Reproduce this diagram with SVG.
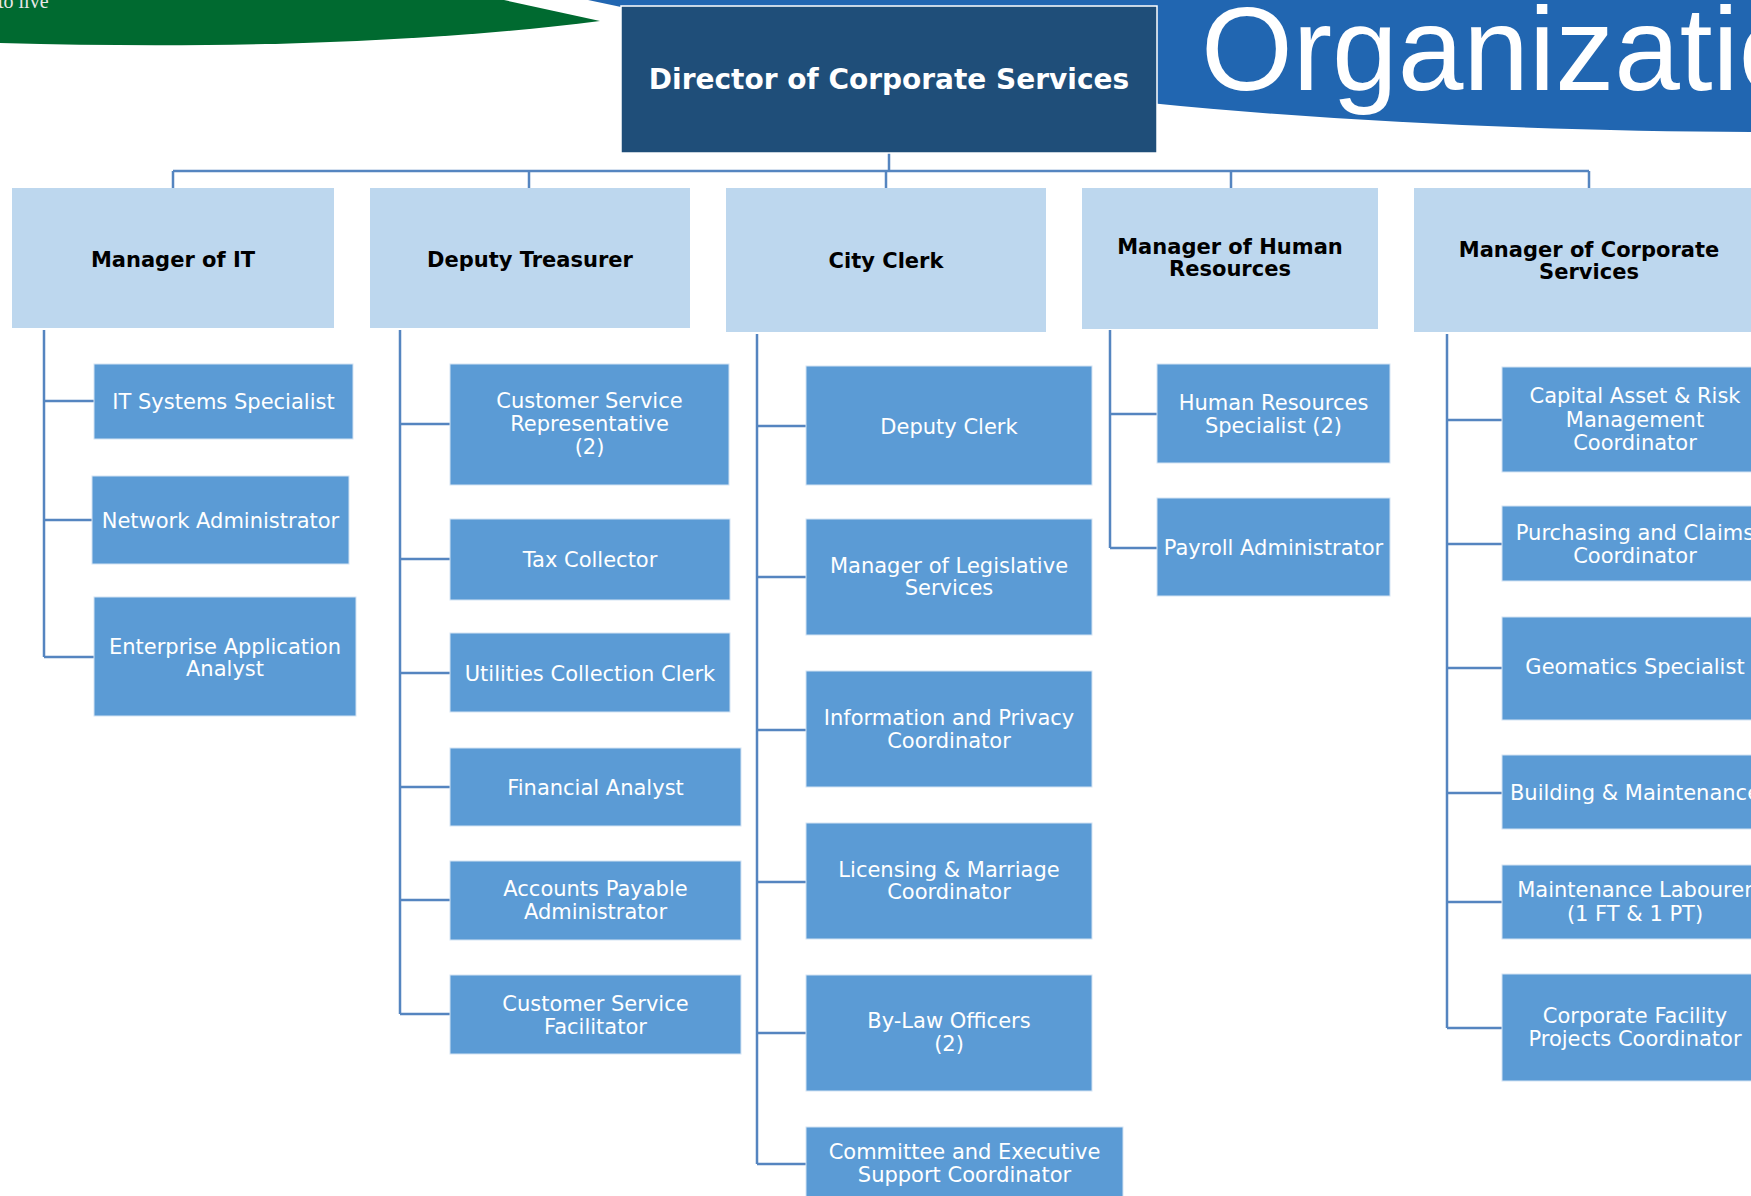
<svg xmlns="http://www.w3.org/2000/svg" width="1751" height="1196" viewBox="0 0 1751 1196">
<style>
  .hdr{fill:#bdd7ee}
  .kid{fill:#5b9bd5;stroke:#d4e3f3;stroke-width:1}
  .ht{font-family:"DejaVu Sans",Verdana,sans-serif;font-weight:bold;font-size:21px;fill:#000;text-anchor:middle}
  .kt{font-family:"DejaVu Sans",Verdana,sans-serif;font-size:21px;fill:#ffffff;text-anchor:middle}
  .conn{fill:none;stroke:#5585c0;stroke-width:2.5}
</style>
<rect width="1751" height="1196" fill="#ffffff"/>
<g id="banner">
  <path d="M0,0 L504,0 L600,21 C450,40 250,50 0,43 Z" fill="#006a30"/>
  <text x="-2" y="8" font-family="'Liberation Serif',serif" font-size="20" fill="#e8e8e8">to live</text>
  <path d="M588,0 H1751 V132 C1560,131 1350,123 1150,103 L640,11 Z" fill="#2166b1"/>
  <text x="1201" y="90" font-family="'Liberation Sans',Arial,sans-serif" font-size="118" fill="#ffffff">Organization</text>
</g>
<g id="connectors">
  <path class="conn" d="M889,153 V172 M173,171 H1589 M173,171 V188 M529,171 V188 M886,171 V188 M1231,171 V188 M1589,171 V188"/>
  <path class="conn" d="M44,330 V657 M44,401 H94 M44,520 H92 M44,657 H94"/>
  <path class="conn" d="M400,330 V1014 M400,424 H450 M400,559 H450 M400,673 H450 M400,787 H450 M400,900 H450 M400,1014 H450"/>
  <path class="conn" d="M757,334 V1164 M757,426 H806 M757,577 H806 M757,730 H806 M757,882 H806 M757,1033 H806 M757,1164 H806"/>
  <path class="conn" d="M1110,330 V548 M1110,414 H1157 M1110,548 H1157"/>
  <path class="conn" d="M1447,334 V1028 M1447,420 H1502 M1447,544 H1502 M1447,668 H1502 M1447,793 H1502 M1447,902 H1502 M1447,1028 H1502"/>
</g>
<g id="director">
  <rect x="621" y="6" width="536" height="147" fill="#1f4e79" stroke="#ffffff" stroke-width="1.5"/>
  <text x="889" y="89" font-family="'DejaVu Sans',Verdana,sans-serif" font-weight="bold" font-size="28" fill="#ffffff" text-anchor="middle">Director of Corporate Services</text>
</g>
<g id="mgr-it"><rect class="hdr" x="12" y="188" width="322" height="140"/><text class="ht" x="173" y="267">Manager of IT</text></g>
<g id="deputy-treasurer"><rect class="hdr" x="370" y="188" width="320" height="140"/><text class="ht" x="530" y="267">Deputy Treasurer</text></g>
<g id="city-clerk"><rect class="hdr" x="726" y="188" width="320" height="144"/><text class="ht" x="886" y="268">City Clerk</text></g>
<g id="mgr-hr"><rect class="hdr" x="1082" y="188" width="296" height="141"/><text class="ht" x="1230" y="254">Manager of Human</text><text class="ht" x="1230" y="276">Resources</text></g>
<g id="mgr-cs"><rect class="hdr" x="1414" y="188" width="350" height="144"/><text class="ht" x="1589" y="257">Manager of Corporate</text><text class="ht" x="1589" y="279">Services</text></g>

<g id="it-systems"><rect class="kid" x="94" y="364" width="259" height="75"/><text class="kt" x="223.5" y="409">IT Systems Specialist</text></g>
<g id="network-admin"><rect class="kid" x="92" y="476" width="257" height="88"/><text class="kt" x="220.5" y="528">Network Administrator</text></g>
<g id="enterprise-app"><rect class="kid" x="94" y="597" width="262" height="119"/><text class="kt" x="225" y="654">Enterprise Application</text><text class="kt" x="225" y="676">Analyst</text></g>

<g id="csr"><rect class="kid" x="450" y="364" width="279" height="121"/><text class="kt" x="589.5" y="408">Customer Service</text><text class="kt" x="589.5" y="431">Representative</text><text class="kt" x="589.5" y="454">(2)</text></g>
<g id="tax-collector"><rect class="kid" x="450" y="519" width="280" height="81"/><text class="kt" x="590" y="567">Tax Collector</text></g>
<g id="utilities-clerk"><rect class="kid" x="450" y="633" width="280" height="79"/><text class="kt" x="590" y="681">Utilities Collection Clerk</text></g>
<g id="financial-analyst"><rect class="kid" x="450" y="748" width="291" height="78"/><text class="kt" x="595.5" y="795">Financial Analyst</text></g>
<g id="ap-admin"><rect class="kid" x="450" y="861" width="291" height="79"/><text class="kt" x="595.5" y="896">Accounts Payable</text><text class="kt" x="595.5" y="919">Administrator</text></g>
<g id="cs-facilitator"><rect class="kid" x="450" y="975" width="291" height="79"/><text class="kt" x="595.5" y="1011">Customer Service</text><text class="kt" x="595.5" y="1034">Facilitator</text></g>

<g id="deputy-clerk"><rect class="kid" x="806" y="366" width="286" height="119"/><text class="kt" x="949" y="434">Deputy Clerk</text></g>
<g id="mgr-legislative"><rect class="kid" x="806" y="519" width="286" height="116"/><text class="kt" x="949" y="573">Manager of Legislative</text><text class="kt" x="949" y="595">Services</text></g>
<g id="info-privacy"><rect class="kid" x="806" y="671" width="286" height="116"/><text class="kt" x="949" y="725">Information and Privacy</text><text class="kt" x="949" y="748">Coordinator</text></g>
<g id="licensing"><rect class="kid" x="806" y="823" width="286" height="116"/><text class="kt" x="949" y="877">Licensing &amp; Marriage</text><text class="kt" x="949" y="899">Coordinator</text></g>
<g id="bylaw"><rect class="kid" x="806" y="975" width="286" height="116"/><text class="kt" x="949" y="1028">By-Law Officers</text><text class="kt" x="949" y="1051">(2)</text></g>
<g id="committee"><rect class="kid" x="806" y="1127" width="317" height="113"/><text class="kt" x="964.5" y="1159">Committee and Executive</text><text class="kt" x="964.5" y="1182">Support Coordinator</text></g>

<g id="hr-specialist"><rect class="kid" x="1157" y="364" width="233" height="99"/><text class="kt" x="1273.5" y="410">Human Resources</text><text class="kt" x="1273.5" y="433">Specialist (2)</text></g>
<g id="payroll"><rect class="kid" x="1157" y="498" width="233" height="98"/><text class="kt" x="1273.5" y="555">Payroll Administrator</text></g>

<g id="capital-asset"><rect class="kid" x="1502" y="367" width="266" height="105"/><text class="kt" x="1635" y="403">Capital Asset &amp; Risk</text><text class="kt" x="1635" y="427">Management</text><text class="kt" x="1635" y="450">Coordinator</text></g>
<g id="purchasing"><rect class="kid" x="1502" y="506" width="266" height="75"/><text class="kt" x="1635" y="540">Purchasing and Claims</text><text class="kt" x="1635" y="563">Coordinator</text></g>
<g id="geomatics"><rect class="kid" x="1502" y="617" width="266" height="103"/><text class="kt" x="1635" y="674">Geomatics Specialist</text></g>
<g id="building"><rect class="kid" x="1502" y="755" width="266" height="74"/><text class="kt" x="1635" y="800">Building &amp; Maintenance</text></g>
<g id="labourer"><rect class="kid" x="1502" y="865" width="266" height="74"/><text class="kt" x="1635" y="897">Maintenance Labourer</text><text class="kt" x="1635" y="921">(1 FT &amp; 1 PT)</text></g>
<g id="facility"><rect class="kid" x="1502" y="974" width="266" height="107"/><text class="kt" x="1635" y="1023">Corporate Facility</text><text class="kt" x="1635" y="1046">Projects Coordinator</text></g>
</svg>
